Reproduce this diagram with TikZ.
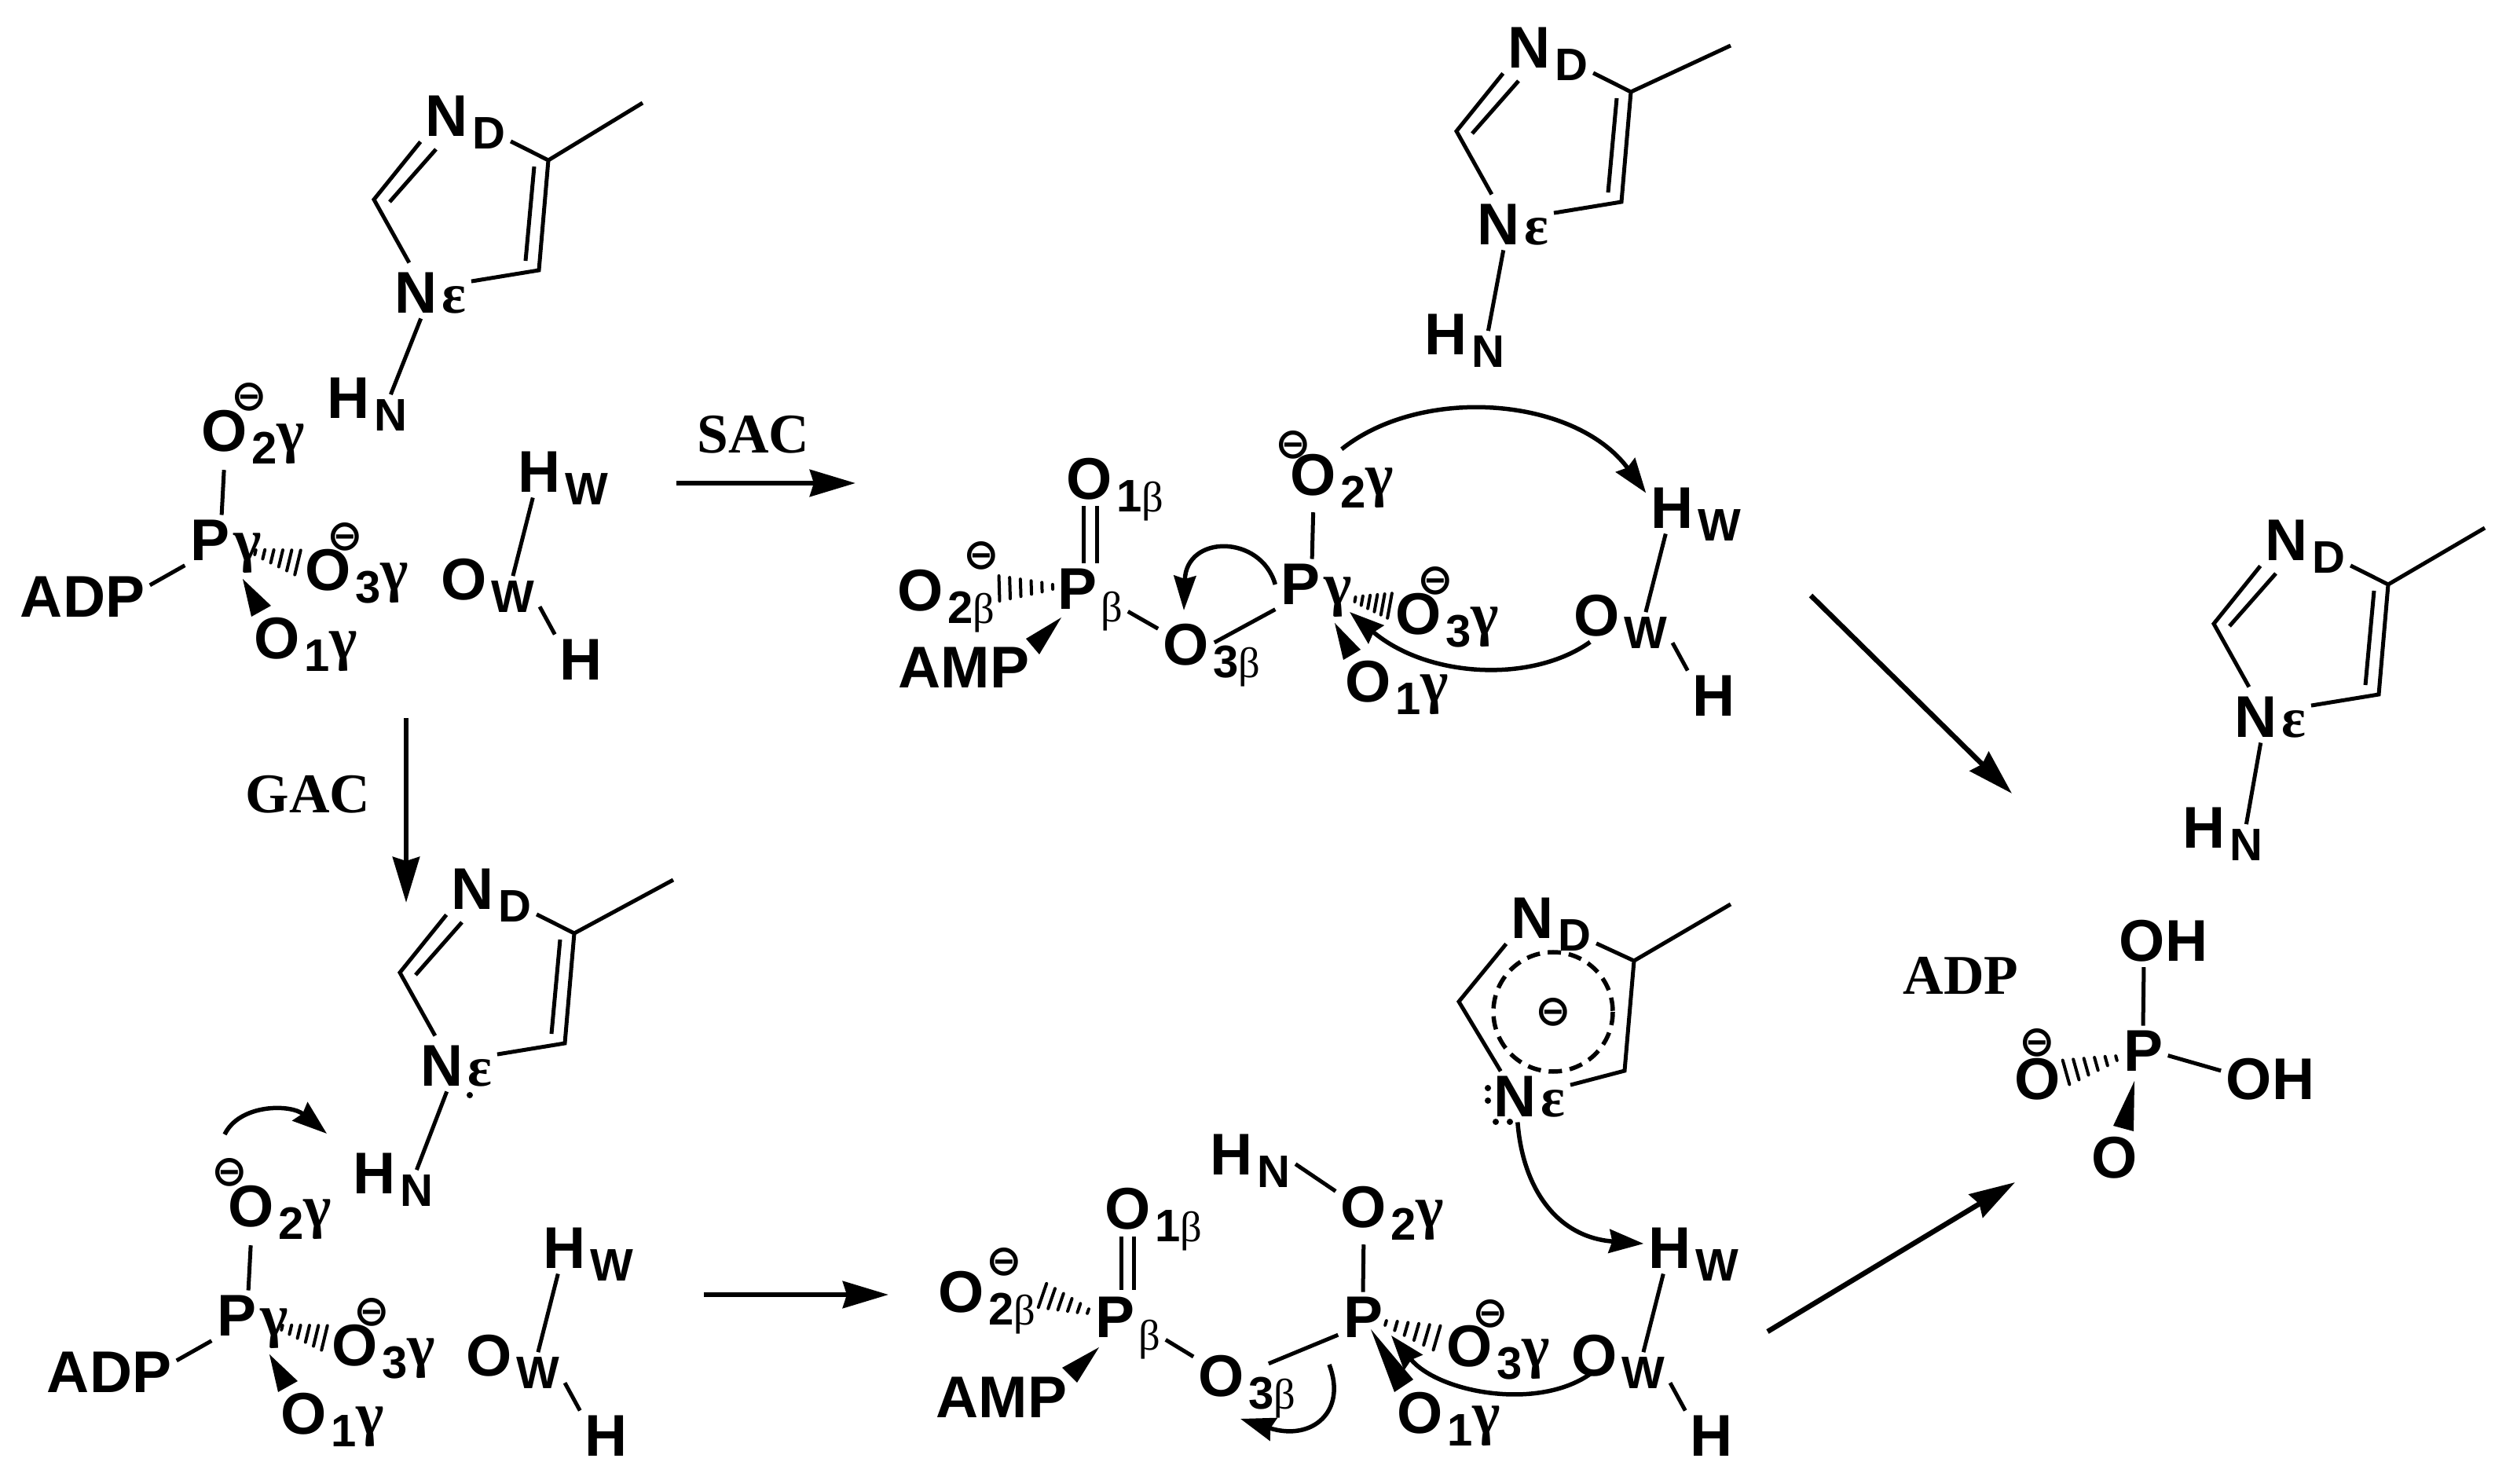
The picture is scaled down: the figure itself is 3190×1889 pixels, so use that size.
\documentclass[tikz,border=0pt]{standalone}
\usepackage{fontspec}
\setmainfont{Liberation Serif}
\setsansfont{Liberation Sans}
\newfontfamily\grfont{Liberation Serif}
\newfontfamily\chgfont{DejaVu Sans}
\usetikzlibrary{arrows.meta,calc}
\newcommand{\gam}{\raisebox{.16cm}{\grfont\bfseries\fontsize{21.5}{22}\selectfont γ}}
\newcommand{\eps}{\raisebox{.16cm}{\grfont\bfseries\fontsize{20.5}{22}\selectfont ε}}
\newcommand{\bet}{{\grfont\mdseries\fontsize{15.5}{16}\selectfont β}}
\tikzset{
  atom/.style={font=\sffamily\bfseries\fontsize{21.3}{24}\selectfont, inner sep=.06cm},
  subs/.style={font=\sffamily\bfseries\fontsize{16.5}{17}\selectfont, anchor=base west,
    inner sep=.06cm, xshift=-.08cm, yshift=-.16cm},
  charge/.style={font=\chgfont\bfseries\fontsize{15.5}{16}\selectfont, inner sep=0pt},
  lab/.style={font=\rmfamily\bfseries\fontsize{20.3}{23}\selectfont, anchor=base west, inner sep=0pt},
  bond/.style={line width=.05cm, line join=miter},
  hashline/.style={line width=.04cm, line cap=round},
  rxn/.style={line width=.065cm, -{Stealth[length=.58cm,width=.34cm,inset=.05cm]}},
  curly/.style={line width=.055cm, -{Stealth[length=.44cm,width=.3cm,inset=.04cm]}},
  dot/.style={circle, fill, inner sep=0pt, minimum size=.08cm},
}
% hashed bond, narrow end first
\newcommand{\hashb}[2]{%
  \foreach \ff/\ww in {0/.03,.2/.06,.4/.085,.6/.11,.8/.135,1/.16}{
    \draw[hashline] ($(#1)!\ff!(#2)+($(#1)!\ww cm!90:(#2)$)-(#1)$) -- ($(#1)!\ff!(#2)-($(#1)!\ww cm!90:(#2)$)+(#1)$);
  }}
% ring with the proton on N
\newcommand{\imid}[4]{%
\begin{scope}[shift={(#2)}]
\node[atom] (#1ne) at (0,0) {N};
\node[subs] (#1nes) at (#1ne.base east) {\eps};
\node[atom] (#1nd) at (39,-225) {N};
\node[subs] (#1nds) at (#1nd.base east) {D};
\node[atom] (#1h) at (#3) {H};
\node[subs] (#1hs) at (#1h.base east) {N};
\coordinate (#1ctwo) at (-54,-119);
\coordinate (#1cfour) at (168,-169);
\coordinate (#1cfive) at (156,-29);
\coordinate (#1me) at (#4);
\coordinate (#1a) at (-34,-116);
\coordinate (#1b) at (25,-183);
\coordinate (#1c) at (139,-41);
\coordinate (#1d) at (150,-161);
\draw[bond, shorten >=.07cm] (#1nd.south west) -- (#1ctwo) -- (#1ne.100);
\draw[bond] (#1nds.-20) -- (#1cfour) -- (#1cfive) -- (#1nes.north east);
\draw[bond] (#1cfour) -- (#1me);
\draw[bond] (#1a) -- (#1b);
\draw[bond] (#1c) -- (#1d);
\draw[bond] (#1ne.-80) -- (#1hs.north);
\end{scope}}
% water
\newcommand{\wat}[2]{%
\begin{scope}[shift={(#2)}]
\node[atom] (#1o) at (0,0) {O};
\node[subs] (#1os) at (#1o.base east) {W};
\node[atom] (#1hw) at (96,-137) {H};
\node[subs] (#1hws) at (#1hw.base east) {W};
\node[atom] (#1h) at (149,102) {H};
\draw[bond] (#1hw.255) -- (#1os.north);
\draw[bond] (#1os.-20) -- (#1h.north west);
\end{scope}}
% ADP phosphate
\newcommand{\pgam}[3]{%
\begin{scope}[shift={(#2)}]
\node[atom] (#1p) at (0,0) {P};
\node[subs] (#1ps) at (#1p.base east) {\gam};
\node[atom] (#1otwo) at (19,-139) {O};
\node[subs] (#1otwos) at (#1otwo.base east) {2\gam};
\node[charge] (#1cha) at (#3) {⊖};
\node[atom] (#1othree) at (151,38) {O};
\node[subs] (#1othrees) at (#1othree.base east) {3\gam};
\node[charge] (#1chb) at (172,-5) {⊖};
\node[atom] (#1oone) at (86,125) {O};
\node[subs] (#1oones) at (#1oone.base east) {1\gam};
\node[atom] (#1adp) at (-162,72) {ADP};
\coordinate (#1ha) at (58,15);
\coordinate (#1hb) at (112,28);
\draw[bond, shorten <=.16cm] (#1otwo.south) -- (#1p.65);
\draw[bond] (#1adp.10) -- (#1p.225);
\hashb{#1ha}{#1hb}
\fill (42,49) -- (53,97) -- (78,83) -- cycle;
\end{scope}}

\begin{document}
\begin{tikzpicture}[x=.01cm,y=-.01cm]
\useasboundingbox (0,0) rectangle (3190,1889);
% left column
\imid{ia}{530,373}{-86,134}{288,-242}
\pgam{pa}{267,688}{50,-183}
\wat{wa}{591,738}
\imid{ib}{563,1357}{-86,137}{294,-237}
\pgam{pb}{301,1675}{-9,-183}
\wat{wb}{623,1726}
\node[dot] (ibdot) at (598,1394) {};
\coordinate (curlya) at (286,1444);
\coordinate (curlyb) at (416,1443);
\draw[curly] (curlya) .. controls (305,1405) and (370,1405) .. (curlyb);
% labels and reaction arrows
\node[lab] (sac) at (887,577) {SAC};
\node[lab] (gac) at (312,1035) {GAC};
\coordinate (sacs) at (861,615);
\coordinate (sace) at (1089,615);
\coordinate (gacs) at (517,914);
\coordinate (gace) at (517,1149);
\coordinate (lows) at (896,1648);
\coordinate (lowe) at (1131,1648);
\coordinate (upps) at (2305,758);
\coordinate (uppe) at (2561,1010);
\coordinate (diags) at (2250,1695);
\coordinate (diage) at (2565,1505);
\draw[rxn] (sacs) -- (sace);
\draw[rxn] (gacs) -- (gace);
\draw[rxn] (lows) -- (lowe);
\draw[rxn] (upps) -- (uppe);
\draw[rxn] (diags) -- (diage);
% upper middle
\imid{ic}{1908,286}{-67,140}{295,-228}
\wat{wc}{2033,784}
\node[atom] (pbe) at (1371,750) {P};
\node[subs] (pbes) at (pbe.base east) {\bet};
\node[atom] (obone) at (1387,610) {O};
\node[subs] (obones) at (obone.base east) {1\bet};
\node[atom] (obtwo) at (1172,752) {O};
\node[subs] (obtwos) at (obtwo.base east) {2\bet};
\node[charge] (chbe) at (1249,707) {⊖};
\node[atom] (amp) at (1227,850) {AMP};
\node[atom] (obthree) at (1510,821) {O};
\node[subs] (obthrees) at (obthree.base east) {3\bet};
\node[atom] (pga) at (1655,744) {P};
\node[subs] (pgas) at (pga.base east) {\gam};
\node[atom] (ogtwo) at (1672,605) {O};
\node[subs] (ogtwos) at (ogtwo.base east) {2\gam};
\node[charge] (chga) at (1646,566) {⊖};
\node[atom] (ogthree) at (1806,782) {O};
\node[subs] (ogthrees) at (ogthree.base east) {3\gam};
\node[charge] (chgb) at (1827,739) {⊖};
\node[atom] (ogone) at (1742,868) {O};
\node[subs] (ogones) at (ogone.base east) {1\gam};
\coordinate (dba) at (1379,644);
\coordinate (dbb) at (1379,717);
\coordinate (dbc) at (1396,644);
\coordinate (dbd) at (1396,717);
\draw[bond] (dba) -- (dbb);
\draw[bond] (dbc) -- (dbd);
\coordinate (ha) at (1340,747);
\coordinate (hb) at (1272,749);
\hashb{ha}{hb}
\fill (1351,786) -- (1306,813) -- (1323,833) -- cycle;
\draw[bond] (pbes.east) -- (obthree.150);
\draw[bond] (obthree.5) -- (pga.225);
\draw[bond, shorten <=.14cm] (ogtwo.south) -- (pga.65);
\coordinate (hc) at (1725,763);
\coordinate (hd) at (1769,771);
\hashb{hc}{hd}
\fill (1699,793) -- (1710,840) -- (1732,827) -- cycle;
\coordinate (tipa) at (1507,777);
\coordinate (tipb) at (1718,779);
\draw[curly] (ogtwo.north east) .. controls (1810,490) and (2005,505) .. (wchw.150);
\draw[curly, -{Stealth[length=.44cm,width=.28cm,inset=.04cm]}] (pga.180) .. controls (1605,680) and (1510,680) .. (tipa);
\draw[curly] (wco.255) .. controls (1950,870) and (1817,863) .. (tipb);
% lower middle
\wat{wd}{2030,1726}
\node[atom] (hn) at (1568,1470) {H};
\node[subs] (hns) at (hn.base east) {N};
\node[atom] (pc) at (1419,1677) {P};
\node[subs] (pcs) at (pc.base east) {\bet};
\node[atom] (ocone) at (1436,1539) {O};
\node[subs] (ocones) at (ocone.base east) {1\bet};
\node[atom] (octwo) at (1224,1645) {O};
\node[subs] (octwos) at (octwo.base east) {2\bet};
\node[charge] (chc) at (1278,1606) {⊖};
\node[atom] (ampb) at (1275,1779) {AMP};
\node[atom] (octhree) at (1555,1752) {O};
\node[subs] (octhrees) at (octhree.base east) {3\bet};
\node[atom] (pd) at (1735,1677) {P};
\node[atom] (odtwo) at (1736,1537) {O};
\node[subs] (odtwos) at (odtwo.base east) {2\gam};
\node[atom] (odthree) at (1871,1714) {O};
\node[subs] (odthrees) at (odthree.base east) {3\gam};
\node[charge] (chd) at (1897,1672) {⊖};
\node[atom] (odone) at (1808,1799) {O};
\node[subs] (odones) at (odone.base east) {1\gam};
\coordinate (dbe) at (1427,1574);
\coordinate (dbf) at (1427,1642);
\coordinate (dbg) at (1443,1574);
\coordinate (dbh) at (1443,1642);
\draw[bond] (dbe) -- (dbf);
\draw[bond] (dbg) -- (dbh);
\coordinate (he) at (1385,1669);
\coordinate (hf) at (1327,1649);
\hashb{he}{hf}
\fill (1399,1715) -- (1352,1741) -- (1371,1760) -- cycle;
\draw[bond] (pcs.east) -- (octhree.145);
\draw[bond, shorten <=.26cm] (octhree.10) -- (pd.215);
\draw[bond] (hns.20) -- (odtwo.150);
\draw[bond, shorten <=.14cm] (odtwo.south) -- (pd.north);
\coordinate (hg) at (1764,1684);
\coordinate (hh) at (1829,1703);
\hashb{hg}{hh}
\fill (1745,1692) -- (1775,1772) -- (1799,1756) -- cycle;
% anion ring
\node[atom] (ne) at (1929,1396) {N};
\node[subs] (nes) at (ne.base east) {\eps};
\node[atom] (nd) at (1951,1169) {N};
\node[subs] (nds) at (nd.base east) {D};
\node[charge] (chring) at (1977,1288) {⊖};
\coordinate (ringb) at (1857,1275);
\coordinate (ringc) at (2080,1223);
\coordinate (ringd) at (2068,1363);
\coordinate (ringe) at (2203,1151);
\draw[bond] (nd.south west) -- (ringb) -- (ne.120);
\draw[bond] (nds.-20) -- (ringc) -- (ringd) -- (nes.north east);
\draw[bond] (ringc) -- (ringe);
\draw[line width=.055cm, dash pattern=on .17cm off .1cm] (chring) circle[radius=76];
\node[dot] (lpa) at (1894,1385) {};
\node[dot] (lpb) at (1894,1401) {};
\node[dot] (lpc) at (1904,1428) {};
\node[dot] (lpd) at (1922,1428) {};
\coordinate (tipc) at (1579,1806);
\coordinate (tipd) at (1771,1700);
\coordinate (tipe) at (1692,1737);
\coordinate (tipf) at (2027,1747);
\draw[curly] (ne.-85) .. controls (1938,1510) and (1980,1575) .. (wdhw.170);
\draw[curly] (tipe) .. controls (1715,1797) and (1670,1835) .. (tipc);
\draw[curly] (tipf) .. controls (1960,1797) and (1831,1773) .. (tipd);
% right
\imid{ie}{2872,913}{-66,141}{291,-241}
\node[lab] (adpb) at (2422,1265) {ADP};
\node[atom] (pr) at (2728,1338) {P};
\node[atom] (oha) at (2754,1198) {OH};
\node[atom] (ohb) at (2890,1374) {OH};
\node[atom] (ora) at (2594,1374) {O};
\node[charge] (chr) at (2593,1327) {⊖};
\node[atom] (orb) at (2692,1474) {O};
\draw[bond] (oha.233) -- (pr.north);
\draw[bond] (pr.-10) -- (ohb.170);
\coordinate (hi) at (2694,1347);
\coordinate (hj) at (2630,1365);
\hashb{hi}{hj}
\fill (2717,1376) -- (2690,1433) -- (2716,1440) -- cycle;
\end{tikzpicture}
\end{document}
